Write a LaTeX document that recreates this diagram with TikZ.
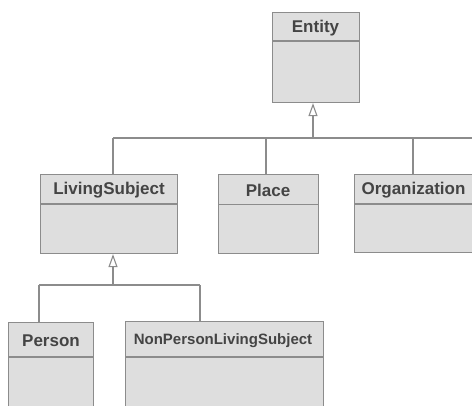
\documentclass[tikz,border=0pt]{standalone}
\usepackage{fontspec}
\setmainfont{Liberation Sans}
\usetikzlibrary{arrows.meta}
\definecolor{boxfill}{HTML}{DEDEDE}
\definecolor{hdrfill}{HTML}{D8D8D8}
\definecolor{edgec}{HTML}{8C8C8C}
\definecolor{txtc}{HTML}{444444}
\tikzset{
  cls/.style={draw=edgec, line width=1.1pt, fill=boxfill, rectangle, anchor=north west, inner sep=0pt},
  hdr/.style={text=txtc, font=\fontsize{17}{19}\selectfont\bfseries, inner sep=0pt},
  sep/.style={draw=edgec, line width=1.1pt},
  conn/.style={draw=edgec, line width=1.1pt},
  gen/.style={conn, -{Triangle[open, width=9pt, length=13pt, fill=white]}},
}
\begin{document}
\begin{tikzpicture}[x=1pt,y=-1pt]
\useasboundingbox (0,0) rectangle (472,405);
\clip (0,0) rectangle (472,405);
% Entity
\node[cls, minimum width=87pt, minimum height=90pt] (entity) at (272,12) {};
\path[sep] (272,41) -- (359,41);
\node[hdr] (entityh) at (315.5,28) {Entity};
% LivingSubject
\node[cls, minimum width=137pt, minimum height=79pt] (living) at (40,174) {};
\path[sep] (40,204) -- (177,204);
\node[hdr] (livingh) at (109,190) {LivingSubject};
% Place
\node[cls, minimum width=100pt, minimum height=79pt] (place) at (218,174) {};
\path[sep] (218,204.5) -- (318,204.5);
\node[hdr] (placeh) at (268,190) {Place};
% Organization
\node[cls, minimum width=140pt, minimum height=78pt] (org) at (354,174) {};
\path[sep] (354,204) -- (494,204);
\node[hdr] (orgh) at (413.5,190) {Organization};
% Person
\node[cls, minimum width=85pt, minimum height=110pt] (person) at (8,322) {};
\path[sep] (8,357) -- (93,357);
\node[hdr] (personh) at (51,341) {Person};
% NonPersonLivingSubject
\node[cls, minimum width=198pt, minimum height=110pt] (nonperson) at (125,321) {};
\path[sep] (125,357) -- (323,357);
\node[hdr, font=\fontsize{15}{17}\selectfont\bfseries] (nonpersonh) at (223,341) {NonPersonLivingSubject};
% connectors level 1
\coordinate (j1) at (313,138);
\coordinate (jl) at (113,138);
\coordinate (jp) at (266,138);
\coordinate (jo) at (413,138);
\coordinate (jr) at (480,138);
\draw[gen] (j1) -- (entity.south -| j1);
\draw[conn] (jl) -- (jr);
\draw[conn] (jl) -- (living.north -| jl);
\draw[conn] (jp) -- (place.north -| jp);
\draw[conn] (jo) -- (org.north -| jo);
% connectors level 2
\coordinate (k1) at (113,285);
\coordinate (kp) at (39,285);
\coordinate (kn) at (200,285);
\draw[gen] (k1) -- (living.south -| k1);
\draw[conn] (kp) -- (kn);
\draw[conn] (kp) -- (person.north -| kp);
\draw[conn] (kn) -- (nonperson.north -| kn);
\end{tikzpicture}
\end{document}
